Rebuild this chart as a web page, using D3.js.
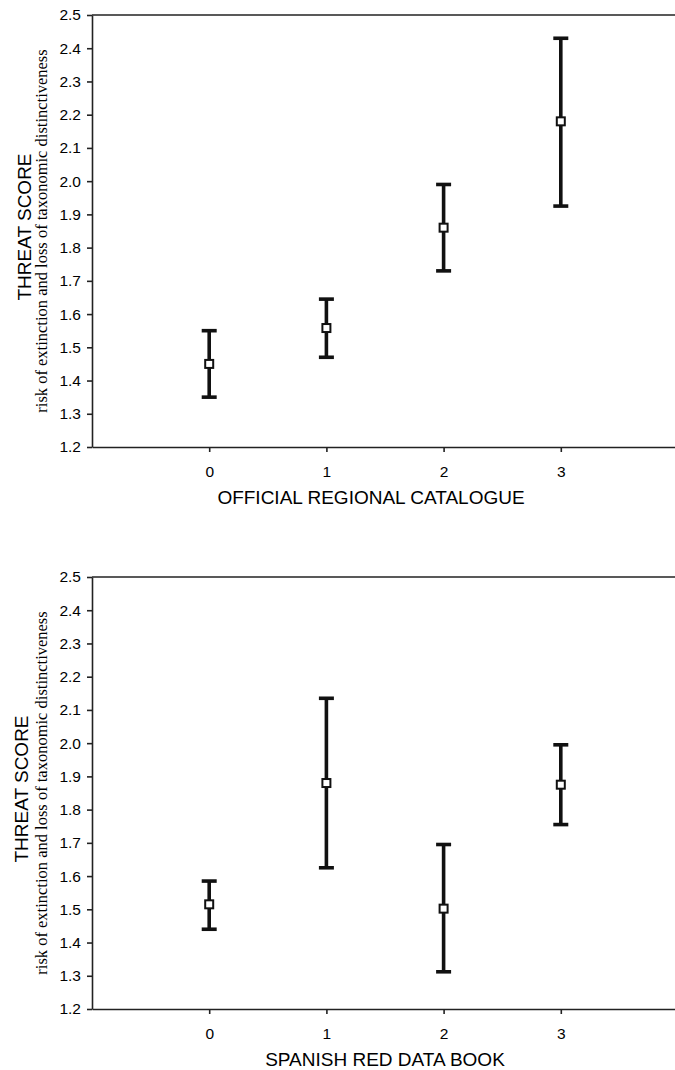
<!DOCTYPE html>
<html lang="en">
<head>
    <meta charset="UTF-8">
    <title>Threat score by catalogue category</title>
    <script src="https://d3js.org/d3.v7.min.js"></script>
    <style>
        body { margin: 0; background: #fff; }
        .tick text { font-family: 'Liberation Sans', Arial, sans-serif; font-size: 15.5px; fill: #000; }
        .domain, .tick line { stroke: #222; stroke-width: 1.6px; }
        .ytitle { font-family: 'Liberation Sans', Arial, sans-serif; font-size: 19px; fill: #000; }
        .ysub { font-family: 'Liberation Serif', 'Times New Roman', serif; font-size: 16.5px; fill: #000; }
        .xtitle { font-family: 'Liberation Sans', Arial, sans-serif; font-size: 19px; fill: #000; }
        .bar { stroke: #111; stroke-width: 3.6px; fill: none; }
        .pt { stroke: #111; stroke-width: 2px; fill: #fff; }
    </style>
</head>
<body>
<div id="chart"></div>
<script>
// categories on the x axis
const categories = [0, 1, 2, 3];
const yTicks = [1.2, 1.3, 1.4, 1.5, 1.6, 1.7, 1.8, 1.9, 2.0, 2.1, 2.2, 2.3, 2.4, 2.5];

// top panel: official regional catalogue
const regionalMean = [1.45, 1.558, 1.86, 2.18];
const regionalLow  = [1.35, 1.47, 1.73, 1.925];
const regionalHigh = [1.55, 1.645, 1.99, 2.43];

// bottom panel: spanish red data book
const redBookMean = [1.515, 1.88, 1.502, 1.875];
const redBookLow  = [1.44, 1.625, 1.312, 1.755];
const redBookHigh = [1.585, 2.135, 1.695, 1.995];

const W = 675, H = 1070;
const svg = d3.select("#chart").append("svg")
    .attr("width", W).attr("height", H);

const x = d3.scaleLinear().domain([-1, 4]).range([92, 678]);

function panel(top, bottom, mean, low, high, xLabel, xLabelX, titleX) {
    const y = d3.scaleLinear().domain([1.2, 2.5]).range([bottom, top]);
    const mid = (top + bottom) / 2;
    const g = svg.append("g");

    // top frame line
    g.append("line")
        .attr("x1", x(-1)).attr("x2", W)
        .attr("y1", y(2.5)).attr("y2", y(2.5))
        .attr("stroke", "#222").attr("stroke-width", 1.6);

    g.append("g")
        .attr("transform", `translate(${x(-1)},0)`)
        .call(d3.axisLeft(y).tickValues(yTicks).tickFormat(d3.format(".1f"))
            .tickSize(5).tickSizeOuter(0))
        .call(a => a.selectAll("text").attr("dx", "-3"));

    g.append("g")
        .attr("transform", `translate(0,${bottom})`)
        .call(d3.axisBottom(x).tickValues(categories).tickFormat(d3.format("d"))
            .tickSize(5).tickSizeOuter(0))
        .call(a => a.selectAll("text").attr("dy", "1.4em"));

    const data = categories.map((c, i) => ({ c, m: mean[i], lo: low[i], hi: high[i] }));
    const cap = 7.5;
    const bars = g.selectAll(".eb").data(data).enter().append("g");
    bars.append("line").attr("class", "bar")
        .attr("x1", d => x(d.c)).attr("x2", d => x(d.c))
        .attr("y1", d => y(d.lo)).attr("y2", d => y(d.hi));
    bars.append("line").attr("class", "bar")
        .attr("x1", d => x(d.c) - cap).attr("x2", d => x(d.c) + cap)
        .attr("y1", d => y(d.hi)).attr("y2", d => y(d.hi));
    bars.append("line").attr("class", "bar")
        .attr("x1", d => x(d.c) - cap).attr("x2", d => x(d.c) + cap)
        .attr("y1", d => y(d.lo)).attr("y2", d => y(d.lo));
    bars.append("rect").attr("class", "pt")
        .attr("x", d => x(d.c) - 4).attr("y", d => y(d.m) - 4)
        .attr("width", 8).attr("height", 8);

    g.append("text").attr("class", "xtitle")
        .attr("x", xLabelX).attr("y", bottom + 57)
        .attr("text-anchor", "middle").text(xLabel);

    g.append("text").attr("class", "ytitle")
        .attr("transform", `translate(${titleX},${mid - 4}) rotate(-90)`)
        .attr("text-anchor", "middle").text("THREAT SCORE");

    g.append("text").attr("class", "ysub")
        .attr("transform", `translate(47,${mid}) rotate(-90)`)
        .attr("text-anchor", "middle")
        .text("risk of extinction and loss of taxonomic distinctiveness");
}

panel(15, 447, regionalMean, regionalLow, regionalHigh,
    "OFFICIAL REGIONAL CATALOGUE", 371, 31);
panel(577, 1009, redBookMean, redBookLow, redBookHigh,
    "SPANISH RED DATA BOOK", 385, 28);
</script>
</body>
</html>
